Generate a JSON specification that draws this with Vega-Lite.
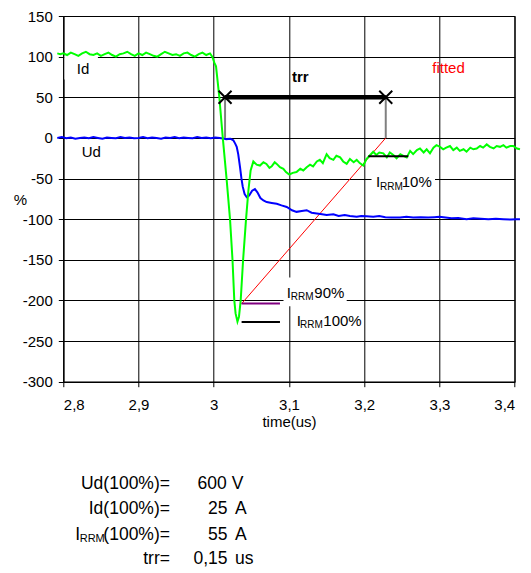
{
 "$schema": "https://vega.github.io/schema/vega-lite/v6.json",
 "width": 451.4,
 "height": 365.7,
 "autosize": {"type": "none"},
 "padding": {"left": 63.3, "top": 16, "right": 16.3, "bottom": 191.3},
 "config": {
  "font": "Liberation Sans",
  "view": {"stroke": "black", "strokeWidth": 1},
  "axis": {
   "domainColor": "black", "tickColor": "black", "tickSize": 5,
   "gridColor": "black", "gridOpacity": 1, "gridWidth": 1,
   "labelColor": "black", "labelFontSize": 15, "labelFont": "Liberation Sans",
   "titleColor": "black", "titleFontSize": 15, "titleFontWeight": "normal", "titleFont": "Liberation Sans"
  }
 },
 "datasets": {
  "green": [
   {"t":2.792,"v":104},{"t":2.796,"v":103},{"t":2.800,"v":104},{"t":2.805,"v":102},{"t":2.810,"v":105},{"t":2.815,"v":103},{"t":2.820,"v":101},{"t":2.825,"v":104},{"t":2.830,"v":106},{"t":2.835,"v":103},{"t":2.840,"v":102},{"t":2.845,"v":104},{"t":2.850,"v":101},{"t":2.855,"v":103},{"t":2.860,"v":105},{"t":2.865,"v":102},{"t":2.870,"v":100},{"t":2.875,"v":103},{"t":2.880,"v":104},{"t":2.885,"v":106},{"t":2.890,"v":103},{"t":2.895,"v":101},{"t":2.900,"v":104},{"t":2.905,"v":102},{"t":2.910,"v":105},{"t":2.915,"v":103},{"t":2.920,"v":101},{"t":2.925,"v":100},{"t":2.930,"v":103},{"t":2.935,"v":106},{"t":2.940,"v":104},{"t":2.945,"v":102},{"t":2.950,"v":103},{"t":2.955,"v":101},{"t":2.960,"v":104},{"t":2.965,"v":105},{"t":2.970,"v":102},{"t":2.975,"v":100},{"t":2.980,"v":103},{"t":2.985,"v":105},{"t":2.990,"v":102},{"t":2.995,"v":104},{"t":2.998,"v":100},{"t":3.001,"v":92},{"t":3.003,"v":88},{"t":3.0074,"v":50},{"t":3.012,"v":0},{"t":3.017,"v":-50},{"t":3.0216,"v":-100},{"t":3.0249,"v":-150},{"t":3.0273,"v":-200},{"t":3.029,"v":-216},{"t":3.0315,"v":-226},{"t":3.0335,"v":-220},{"t":3.0358,"v":-200},{"t":3.039,"v":-150},{"t":3.0429,"v":-100},{"t":3.046,"v":-65},{"t":3.049,"v":-40},{"t":3.0526,"v":-29},{"t":3.057,"v":-33},{"t":3.0614,"v":-34},{"t":3.066,"v":-30},{"t":3.070,"v":-32},{"t":3.074,"v":-37},{"t":3.077,"v":-35},{"t":3.081,"v":-30},{"t":3.0837,"v":-32},{"t":3.088,"v":-36},{"t":3.0925,"v":-38},{"t":3.096,"v":-42},{"t":3.1004,"v":-45},{"t":3.105,"v":-43},{"t":3.110,"v":-42},{"t":3.115,"v":-38},{"t":3.119,"v":-40},{"t":3.1235,"v":-36},{"t":3.128,"v":-33},{"t":3.132,"v":-35},{"t":3.137,"v":-29},{"t":3.141,"v":-27},{"t":3.145,"v":-31},{"t":3.150,"v":-20},{"t":3.154,"v":-25},{"t":3.159,"v":-27},{"t":3.163,"v":-22},{"t":3.168,"v":-24},{"t":3.172,"v":-29},{"t":3.1767,"v":-32},{"t":3.181,"v":-26},{"t":3.186,"v":-30},{"t":3.190,"v":-27},{"t":3.194,"v":-31},{"t":3.1988,"v":-34},{"t":3.203,"v":-26},{"t":3.207,"v":-22},{"t":3.212,"v":-17},{"t":3.216,"v":-21},{"t":3.220,"v":-18},{"t":3.2254,"v":-19},{"t":3.230,"v":-24},{"t":3.234,"v":-18},{"t":3.2387,"v":-21},{"t":3.243,"v":-25},{"t":3.248,"v":-20},{"t":3.252,"v":-22},{"t":3.2565,"v":-24},{"t":3.261,"v":-16},{"t":3.265,"v":-20},{"t":3.270,"v":-15},{"t":3.2741,"v":-13},{"t":3.279,"v":-18},{"t":3.283,"v":-14},{"t":3.2874,"v":-19},{"t":3.292,"v":-12},{"t":3.296,"v":-9},{"t":3.3007,"v":-11},{"t":3.305,"v":-14},{"t":3.309,"v":-12},{"t":3.314,"v":-10},{"t":3.3184,"v":-15},{"t":3.323,"v":-12},{"t":3.327,"v":-16},{"t":3.332,"v":-14},{"t":3.336,"v":-17},{"t":3.341,"v":-12},{"t":3.345,"v":-14},{"t":3.3494,"v":-13},{"t":3.354,"v":-10},{"t":3.358,"v":-12},{"t":3.3628,"v":-8},{"t":3.367,"v":-11},{"t":3.372,"v":-13},{"t":3.376,"v":-10},{"t":3.3805,"v":-11},{"t":3.385,"v":-9},{"t":3.389,"v":-12},{"t":3.394,"v":-10},{"t":3.398,"v":-10},{"t":3.403,"v":-13},{"t":3.407,"v":-14}
  ],
  "blue": [
   {"t":2.792,"v":0},{"t":2.798,"v":1},{"t":2.804,"v":-0.5},{"t":2.810,"v":0.5},{"t":2.816,"v":-1},{"t":2.822,"v":0},{"t":2.828,"v":0.5},{"t":2.834,"v":-0.5},{"t":2.840,"v":1},{"t":2.846,"v":0},{"t":2.852,"v":-1},{"t":2.858,"v":0.5},{"t":2.864,"v":0},{"t":2.870,"v":-0.5},{"t":2.876,"v":1},{"t":2.882,"v":0},{"t":2.888,"v":0.5},{"t":2.894,"v":-0.5},{"t":2.900,"v":0},{"t":2.906,"v":1},{"t":2.912,"v":-0.5},{"t":2.918,"v":0.5},{"t":2.924,"v":0},{"t":2.930,"v":-1},{"t":2.936,"v":0.5},{"t":2.942,"v":0},{"t":2.948,"v":1},{"t":2.954,"v":-0.5},{"t":2.960,"v":0.5},{"t":2.966,"v":0},{"t":2.972,"v":-0.5},{"t":2.978,"v":1},{"t":2.984,"v":0},{"t":2.990,"v":0.5},{"t":2.996,"v":-0.5},{"t":3.002,"v":0.5},{"t":3.008,"v":0},{"t":3.014,"v":-1},{"t":3.0165,"v":-1.5},{"t":3.022,"v":-1},{"t":3.026,"v":-3},{"t":3.0285,"v":-7},{"t":3.0305,"v":-11},{"t":3.0325,"v":-20},{"t":3.0349,"v":-36},{"t":3.0368,"v":-50},{"t":3.0385,"v":-60},{"t":3.041,"v":-69},{"t":3.0438,"v":-73},{"t":3.047,"v":-71},{"t":3.051,"v":-65},{"t":3.0547,"v":-63},{"t":3.058,"v":-67},{"t":3.062,"v":-74},{"t":3.066,"v":-77},{"t":3.0704,"v":-79},{"t":3.077,"v":-80},{"t":3.0837,"v":-81},{"t":3.090,"v":-83},{"t":3.097,"v":-85},{"t":3.104,"v":-89},{"t":3.110,"v":-91},{"t":3.117,"v":-90},{"t":3.1235,"v":-89},{"t":3.130,"v":-92},{"t":3.137,"v":-93},{"t":3.144,"v":-94},{"t":3.150,"v":-95},{"t":3.159,"v":-94},{"t":3.166,"v":-96},{"t":3.174,"v":-95},{"t":3.181,"v":-96},{"t":3.190,"v":-97},{"t":3.196,"v":-96},{"t":3.203,"v":-96.5},{"t":3.212,"v":-97},{"t":3.220,"v":-96},{"t":3.228,"v":-97.5},{"t":3.236,"v":-98},{"t":3.2476,"v":-98},{"t":3.256,"v":-97},{"t":3.265,"v":-98},{"t":3.275,"v":-97.5},{"t":3.285,"v":-98},{"t":3.293,"v":-97.5},{"t":3.300,"v":-97},{"t":3.308,"v":-98},{"t":3.316,"v":-99},{"t":3.325,"v":-98.5},{"t":3.336,"v":-100},{"t":3.345,"v":-99},{"t":3.355,"v":-99.5},{"t":3.365,"v":-100},{"t":3.375,"v":-99.5},{"t":3.385,"v":-100},{"t":3.395,"v":-100.5},{"t":3.402,"v":-100},{"t":3.407,"v":-100}
  ],
  "boxes": [
   {"t":2.8015,"t2":2.846,"v":101.5,"v2":72},
   {"t":3.2097,"t2":3.2941,"v":-40,"v2":-70},
   {"t":3.0927,"t2":3.1767,"v":-171.8,"v2":-207.1},
   {"t":3.1038,"t2":3.199,"v":-208,"v2":-243}
  ],
  "fitted": [{"t":3.037,"v":-204},{"t":3.2286,"v":0}],
  "drops": [{"t":3.015,"v":50,"v2":0},{"t":3.2286,"v":50,"v2":0}],
  "irrm90": [{"t":3.037,"t2":3.088,"v":-203.8}],
  "irrmblack": [{"t":3.037,"t2":3.088,"v":-226.4},{"t":3.2054,"t2":3.2586,"v":-22.5}],
  "trrbar": [{"t":3.015,"t2":3.2286,"v":50}],
  "marks": [{"t":3.015,"v":50},{"t":3.2286,"v":50}],
  "txtleft": [
   {"t":2.8179,"v":78.9,"s":"Id"},{"t":2.8245,"v":-23.4,"s":"Ud"},
   {"t":3.2157,"v":-61,"s":"I"},{"t":3.2498,"v":-61,"s":"10%"},
   {"t":3.0970,"v":-196.4,"s":"I"},{"t":3.1337,"v":-196.4,"s":"90%"},
   {"t":3.1103,"v":-231.7,"s":"I"},{"t":3.1456,"v":-231.7,"s":"100%"}
  ],
  "txtsub": [
   {"t":3.2211,"v":-63.5,"s":"RRM"},{"t":3.1023,"v":-198.9,"s":"RRM"},{"t":3.1146,"v":-234.1,"s":"RRM"}
  ],
  "tblleft": [
   {"t":3.0238,"v":-432.6,"s":"V"},{"t":3.0282,"v":-463.4,"s":"A"},{"t":3.0282,"v":-494.2,"s":"A"},{"t":3.0282,"v":-524.9,"s":"us"},
   {"t":2.8158,"v":-494.2,"s":"I"}
  ],
  "tblsub": [{"t":2.8218,"v":-497.3,"s":"RRM"}],
  "tblright": [
   {"t":2.9418,"v":-432.6,"s":"Ud(100%)="},{"t":2.9418,"v":-463.4,"s":"Id(100%)="},{"t":2.9418,"v":-494.2,"s":"(100%)="},{"t":2.9418,"v":-524.9,"s":"trr="},
   {"t":3.0172,"v":-432.6,"s":"600"},{"t":3.0183,"v":-463.4,"s":"25"},{"t":3.0183,"v":-494.2,"s":"55"},{"t":3.0183,"v":-524.9,"s":"0,15"}
  ],
  "txttrr": [{"t":3.115,"v":68.5,"s":"trr"}],
  "txtfit": [{"t":3.312,"v":80,"s":"fitted"}]
 },
 "encoding": {
  "x": {"field": "t", "type": "quantitative",
   "scale": {"domain": [2.8, 3.4], "nice": false, "zero": false},
   "axis": {"values": [2.8, 2.9, 3, 3.1, 3.2, 3.3, 3.4], "labelExpr": "replace('' + datum.value, '.', ',')",
    "labelPadding": 11, "title": "time(us)", "titleBaseline": "alphabetic", "titleY": 45}},
  "y": {"field": "v", "type": "quantitative",
   "scale": {"domain": [-300, 150], "nice": false, "zero": false},
   "axis": {"values": [-300, -250, -200, -150, -100, -50, 0, 50, 100, 150], "labelExpr": "'' + datum.value",
    "labelPadding": 6, "title": "%", "titleAngle": 0, "titleX": -43.3, "titleY": 183.3, "titleAlign": "center", "titleBaseline": "middle"}}
 },
 "layer": [
  {"data": {"name": "boxes"}, "mark": {"type": "rect", "fill": "white"}, "encoding": {"x2": {"field": "t2"}, "y2": {"field": "v2"}}},
  {"data": {"name": "drops"}, "mark": {"type": "rule", "color": "#808080", "strokeWidth": 2}, "encoding": {"y2": {"field": "v2"}}},
  {"data": {"name": "fitted"}, "mark": {"type": "line", "color": "#ff0000", "strokeWidth": 1}, "encoding": {}},
  {"data": {"name": "blue"}, "mark": {"type": "line", "color": "#0000ff", "strokeWidth": 2}, "encoding": {}},
  {"data": {"name": "green"}, "mark": {"type": "line", "color": "#00ff00", "strokeWidth": 2}, "encoding": {}},
  {"data": {"name": "irrm90"}, "mark": {"type": "rule", "color": "#800080", "strokeWidth": 2}, "encoding": {"x2": {"field": "t2"}}},
  {"data": {"name": "irrmblack"}, "mark": {"type": "rule", "color": "black", "strokeWidth": 2}, "encoding": {"x2": {"field": "t2"}}},
  {"data": {"name": "trrbar"}, "mark": {"type": "rule", "color": "black", "strokeWidth": 4.5}, "encoding": {"x2": {"field": "t2"}}},
  {"data": {"name": "marks"}, "mark": {"type": "point", "shape": "M-1,-1L1,1M-1,1L1,-1", "size": 169, "filled": false, "stroke": "black", "strokeWidth": 2, "opacity": 1}, "encoding": {}},
  {"data": {"name": "txtleft"}, "mark": {"type": "text", "align": "left", "baseline": "alphabetic", "fontSize": 15, "color": "black"}, "encoding": {"text": {"field": "s"}}},
  {"data": {"name": "txtsub"}, "mark": {"type": "text", "align": "left", "baseline": "alphabetic", "fontSize": 10, "color": "black"}, "encoding": {"text": {"field": "s"}}},
  {"data": {"name": "tblleft"}, "mark": {"type": "text", "align": "left", "baseline": "alphabetic", "fontSize": 17.5, "color": "black"}, "encoding": {"text": {"field": "s"}}},
  {"data": {"name": "tblsub"}, "mark": {"type": "text", "align": "left", "baseline": "alphabetic", "fontSize": 11, "color": "black"}, "encoding": {"text": {"field": "s"}}},
  {"data": {"name": "tblright"}, "mark": {"type": "text", "align": "right", "baseline": "alphabetic", "fontSize": 17.5, "color": "black"}, "encoding": {"text": {"field": "s"}}},
  {"data": {"name": "txttrr"}, "mark": {"type": "text", "align": "center", "baseline": "alphabetic", "fontSize": 15, "fontWeight": "bold", "color": "black"}, "encoding": {"text": {"field": "s"}}},
  {"data": {"name": "txtfit"}, "mark": {"type": "text", "align": "center", "baseline": "alphabetic", "fontSize": 15, "color": "#ff0000"}, "encoding": {"text": {"field": "s"}}}
 ]
}
